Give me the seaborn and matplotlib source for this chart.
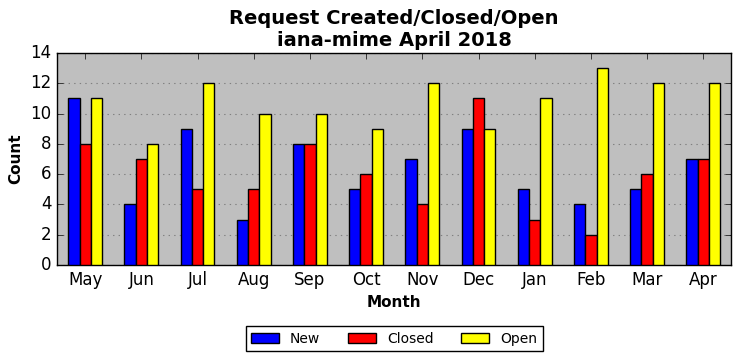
import seaborn as sns
import matplotlib.pyplot as plt
import pandas as pd

months = ['May', 'Jun', 'Jul', 'Aug', 'Sep', 'Oct', 'Nov', 'Dec', 'Jan', 'Feb', 'Mar', 'Apr']
new = [11, 4, 9, 3, 8, 5, 7, 9, 5, 4, 5, 7]
closed = [8, 7, 5, 5, 8, 6, 4, 11, 3, 2, 6, 7]
opened = [11, 8, 12, 10, 10, 9, 12, 9, 11, 13, 12, 12]

df = pd.DataFrame({'Month': months, 'New': new, 'Closed': closed, 'Open': opened})
long = df.melt(id_vars='Month', var_name='Status', value_name='Count')

plt.style.use('classic')
fig, ax = plt.subplots(figsize=(7.41, 3.61), dpi=100)
fig.patch.set_facecolor('white')
ax.set_facecolor('#bfbfbf')

sns.barplot(data=long, x='Month', y='Count', hue='Status', order=months,
            hue_order=['New', 'Closed', 'Open'],
            palette=['#0000ff', '#ff0000', '#ffff00'],
            width=0.6, gap=0, edgecolor='black', linewidth=1,
            saturation=1, ax=ax, zorder=3)

ax.set_xlim(-0.5, 11.5)
ax.set_ylim(0, 14)
ax.set_yticks(range(0, 15, 2))
ax.yaxis.grid(True, linestyle=':', color='#808080', linewidth=0.8, zorder=0)
ax.set_axisbelow(True)
ax.tick_params(labelsize=12, direction='in', top=True, right=True)
ax.set_xlabel('Month', fontsize=11, fontweight='bold')
ax.set_ylabel('Count', fontsize=11, fontweight='bold')
ax.set_title('Request Created/Closed/Open\niana-mime April 2018',
             fontsize=14, fontweight='bold')

ax.legend(loc='upper center', bbox_to_anchor=(0.5, -0.255), ncol=3,
          fontsize=10, frameon=True, fancybox=False, edgecolor='black',
          handlelength=2.0, columnspacing=2.0)

plt.subplots_adjust(left=0.077, right=0.987, top=0.853, bottom=0.266)
plt.savefig('out.png', dpi=100)
